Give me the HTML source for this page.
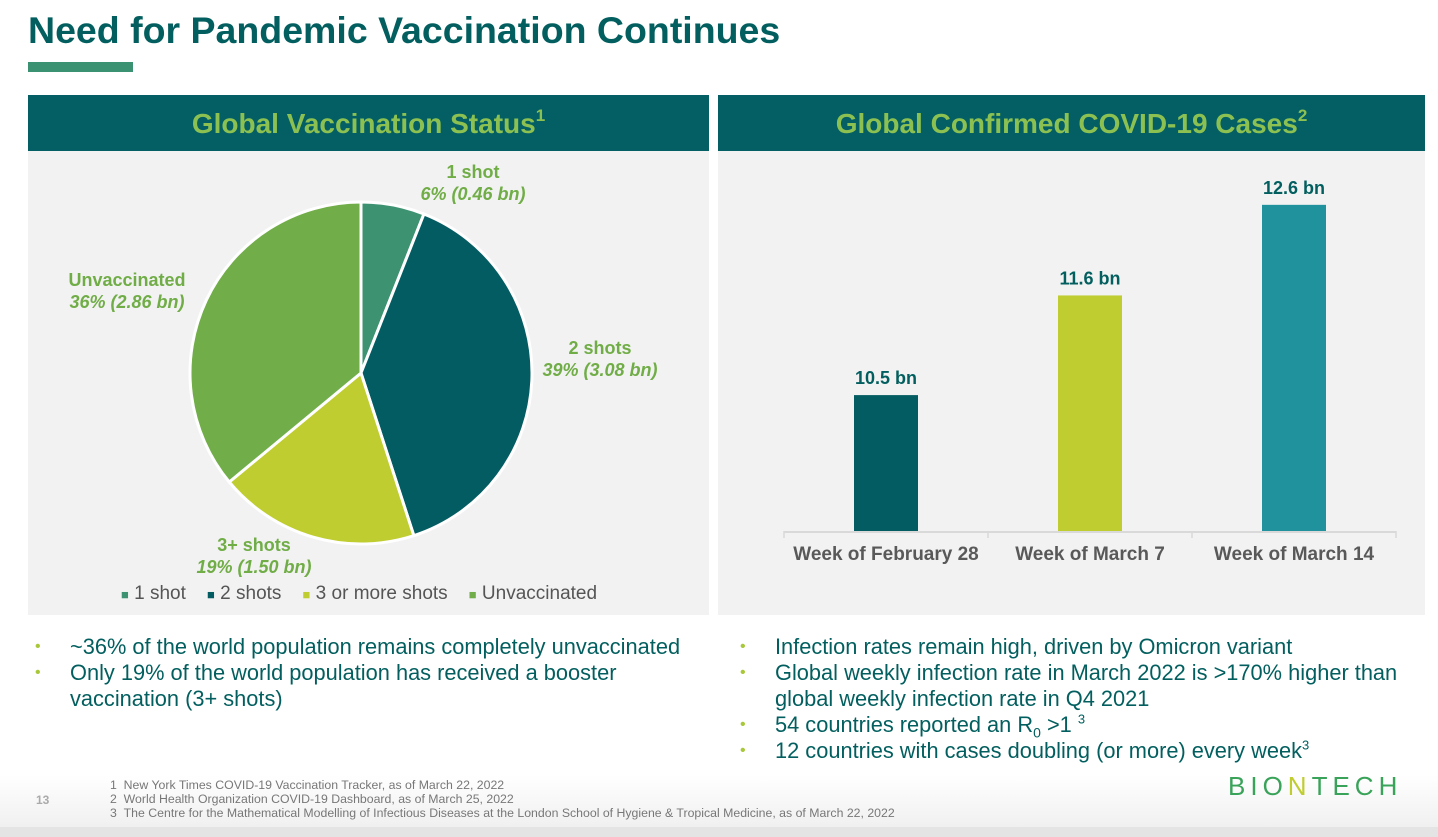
<!DOCTYPE html>
<html><head><meta charset="utf-8"><style>
body{margin:0;width:1438px;height:837px;background:#fff;font-family:"Liberation Sans",Arial,sans-serif;position:relative;overflow:hidden}
.abs{position:absolute}
.title{left:28px;top:9px;font-size:37.5px;font-weight:bold;color:#035f5f}
.panel{background:#f2f2f2;top:95px;height:520px}
.hdr{position:absolute;left:0;right:0;top:0;height:56px;background:#035f64;color:#8cc152;font-weight:bold;font-size:28px;text-align:center;line-height:58px}
.hdr sup{font-size:17px;vertical-align:12px;line-height:0}
ul{margin:0;padding:0;list-style:none}
li{position:relative;padding-left:42px;font-size:21.8px;color:#035f5f;line-height:26px}
li:before{content:"•";position:absolute;left:7px;color:#a8c83a;font-size:16px}
li sub,li sup{line-height:0}
.lbl{font-weight:bold;font-size:18px;color:#70ad47;text-align:center;line-height:22px}
.lbl i{font-style:italic}
.foot{font-size:12.3px;color:#777;line-height:14px}
</style></head><body>
<div class="abs title">Need for Pandemic Vaccination Continues</div>
<div class="abs" style="left:28px;top:62px;width:105px;height:10px;background:#3a9272"></div>

<div class="abs panel" style="left:28px;width:681px">
<div class="hdr">Global Vaccination Status<sup>1</sup></div>
</div>
<div class="abs panel" style="left:718px;width:707px">
<div class="hdr">Global Confirmed COVID-19 Cases<sup>2</sup></div>
</div>

<svg class="abs" style="left:0;top:0" width="1438" height="837" id="charts"></svg>

<div class="abs lbl" style="left:398px;top:161px;width:150px">1 shot<br><i>6% (0.46 bn)</i></div>
<div class="abs lbl" style="left:525px;top:337px;width:150px">2 shots<br><i>39% (3.08 bn)</i></div>
<div class="abs lbl" style="left:179px;top:534px;width:150px">3+ shots<br><i>19% (1.50 bn)</i></div>
<div class="abs lbl" style="left:52px;top:269px;width:150px">Unvaccinated<br><i>36% (2.86 bn)</i></div>

<div class="abs" style="left:121px;top:583px;font-size:19px;color:#555;white-space:nowrap">
<span style="color:#3c9271;font-size:13px">■</span> 1 shot &nbsp;&nbsp;&nbsp;<span style="color:#035c62;font-size:13px">■</span> 2 shots &nbsp;&nbsp;&nbsp;<span style="color:#bfcd31;font-size:13px">■</span> 3 or more shots &nbsp;&nbsp;&nbsp;<span style="color:#71ad48;font-size:13px">■</span> Unvaccinated</div>

<ul class="abs" style="left:28px;top:634px;width:680px">
<li>~36% of the world population remains completely unvaccinated</li>
<li>Only 19% of the world population has received a booster vaccination (3+ shots)</li>
</ul>
<ul class="abs" style="left:733px;top:634px;width:690px">
<li>Infection rates remain high, driven by Omicron variant</li>
<li>Global weekly infection rate in March 2022 is &gt;170% higher than global weekly infection rate in Q4 2021</li>
<li>54 countries reported an R<sub style="font-size:14px">0</sub> &gt;1 <sup style="font-size:13px">3</sup></li>
<li>12 countries with cases doubling (or more) every week<sup style="font-size:13px">3</sup></li>
</ul>

<div class="abs" style="left:0;top:775px;width:1438px;height:52px;background:linear-gradient(rgba(255,255,255,0),#f0f0f0)"></div>
<div class="abs" style="left:0;top:827px;width:1438px;height:10px;background:#e4e4e4"></div>
<div class="abs" style="left:36px;top:793px;font-size:12px;color:#aaa;font-weight:bold">13</div>
<div class="abs foot" style="left:110px;top:778px">1 &nbsp;New York Times COVID-19 Vaccination Tracker, as of March 22, 2022<br>2 &nbsp;World Health Organization COVID-19 Dashboard, as of March 25, 2022<br>3 &nbsp;The Centre for the Mathematical Modelling of Infectious Diseases at the London School of Hygiene &amp; Tropical Medicine, as of March 22, 2022</div>
<div class="abs" style="left:1228px;top:771px;font-size:26px;color:#3aa35a;letter-spacing:5px">BIO<span style="color:#bfcd31">N</span>TECH</div>

<script>
const pieCats=["1 shot","2 shots","3 or more shots","Unvaccinated"];
const pieVals=[6,39,19,36];
const pieColors=["#3c9271","#035c62","#bfcd31","#71ad48"];
const barCats=["Week of February 28","Week of March 7","Week of March 14"];
const barVals=[10.5,11.6,12.6];
const barLabels=["10.5 bn","11.6 bn","12.6 bn"];
const barColors=["#035c62","#bfcd31","#1f929e"];
const NS="http://www.w3.org/2000/svg";
const svg=document.getElementById('charts');
function mk(t,a){const e=document.createElementNS(NS,t);for(const k in a)e.setAttribute(k,a[k]);svg.appendChild(e);return e;}
const cx=361,cy=373,r=171;
const tot=pieVals.reduce((a,b)=>a+b,0);
let ang=0;
pieVals.forEach((v,i)=>{
 const a0=ang,a1=ang+v/tot*2*Math.PI;ang=a1;
 const x0=cx+r*Math.sin(a0),y0=cy-r*Math.cos(a0),x1=cx+r*Math.sin(a1),y1=cy-r*Math.cos(a1);
 const p=mk('path',{d:`M${cx},${cy}L${x0},${y0}A${r},${r} 0 ${a1-a0>Math.PI?1:0} 1 ${x1},${y1}Z`,fill:pieColors[i],stroke:'#fff','stroke-width':3});
 
 
});
const base=531,vmin=9,pxPer=90.6,x0=784,step=204,bw=64;
const yS=v=>base-(v-vmin)*pxPer;
const ax=mk('line',{x1:x0,x2:x0+step*barCats.length,y1:base+1,y2:base+1,stroke:'#d9d9d9','stroke-width':2});


for(let i=0;i<=barCats.length;i++){const t=mk('line',{x1:x0+i*step,x2:x0+i*step,y1:base,y2:base+7,stroke:'#d9d9d9','stroke-width':1.5});
 
 }
barVals.forEach((v,i)=>{
 const cxb=x0+step*(i+0.5);
 const b=mk('rect',{x:cxb-bw/2,y:yS(v),width:bw,height:base-yS(v),fill:barColors[i]});
 
 
 const t=mk('text',{x:cxb,y:yS(v)-11,'text-anchor':'middle','font-size':18,'font-weight':'bold',fill:'#035f5f','font-family':'Liberation Sans, sans-serif'});
 t.textContent=barLabels[i];
 
 
 const c=mk('text',{x:cxb,y:560,'text-anchor':'middle','font-size':19,'font-weight':'bold',fill:'#595959','font-family':'Liberation Sans, sans-serif'});
 c.textContent=barCats[i];
 
 
});
</script>
</body></html>
